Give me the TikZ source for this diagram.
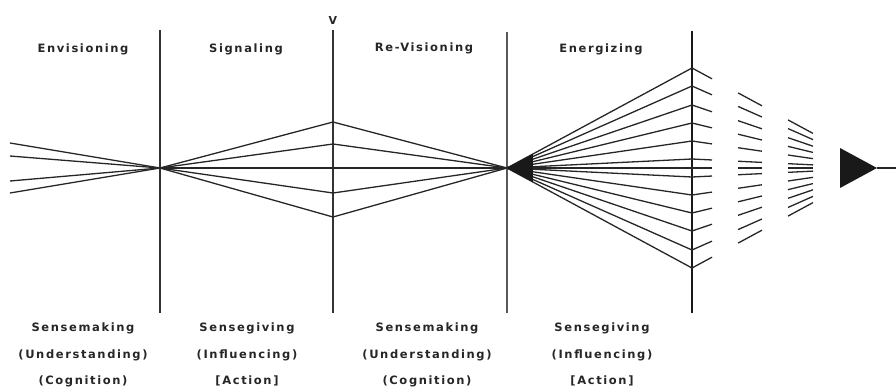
\documentclass[tikz,border=0pt]{standalone}
\usepackage{fontspec}
\setmainfont{DejaVu Sans}[LetterSpace=14]
\usetikzlibrary{calc}
\begin{document}
\begin{tikzpicture}[x=1pt,y=-1pt,
  lbl/.style={font=\fontsize{11.5}{13}\selectfont\bfseries, inner sep=0pt, anchor=center, text=black!85},
  ln/.style={line width=1.3pt, draw=black!85},
  vline/.style={line width=1.8pt, draw=black!80},
  vthick/.style={line width=2.8pt, draw=black!90},
  wedge/.style={fill=black!90}]
\useasboundingbox (0,0) rectangle (896,391);

% apex points
\coordinate (p1) at (160,168);
\coordinate (p2) at (507,168);
\coordinate (p3) at (877,168);
\coordinate (r)  at (896,168);

% vertical dividers
\coordinate (v1t) at (160,30);  \coordinate (v1b) at (160,313);
\coordinate (v2t) at (333,30);  \coordinate (v2b) at (333,313);
\coordinate (v3t) at (507,32);  \coordinate (v3b) at (507,313);
\coordinate (v4t) at (692,31);  \coordinate (v4b) at (692,313);
\draw[vline] (v1t) -- (v1b);
\draw[vline] (v2t) -- (v2b);
\draw[vline, line width=1.5pt, draw=black!65] (v3t) -- (v3b);
\draw[vthick] (v4t) -- (v4b);

% Envisioning: lines converging
\foreach \y [count=\i] in {143,156,181,193} {
  \coordinate (l\i) at (10,\y);
  \draw[ln] (l\i) -- (p1);
}

% Signaling / Re-Visioning: diamond
\foreach \y [count=\i] in {122,144,168,193,217} {
  \coordinate (s\i) at (333,\y);
  \draw[ln] (p1) -- (s\i) -- (p2);
}

% Energizing fan and broken convergence
\foreach \d [count=\i] in {-100,-82,-63,-45,-27,-9,0,9,27,45,63,82,100} {
  \coordinate (e\i) at (692,168+\d);
  \draw[ln] (p2) -- (e\i);
  \draw[ln] (e\i) -- ($(e\i)!0.108!(p3)$);
  \draw[ln] ($(e\i)!0.249!(p3)$) -- ($(e\i)!0.378!(p3)$);
  \draw[ln] ($(e\i)!0.519!(p3)$) -- ($(e\i)!0.654!(p3)$);
}
\fill[wedge] ($(p2)!0.14!(e1)$) -- (p2) -- ($(p2)!0.14!(e13)$) -- cycle;
\fill[wedge] ($(e1)!0.8!(p3)$) -- (p3) -- ($(e13)!0.8!(p3)$) -- cycle;
\draw[ln] (p3) -- (r);

% top marker
\node[lbl, font=\fontsize{11}{12}\selectfont\bfseries] (mark) at (333,20) {V};

% headings
\node[lbl] (h1) at (83,49) {Envisioning};
\node[lbl] (h2) at (246,49) {Signaling};
\node[lbl] (h3) at (424,48) {Re-Visioning};
\node[lbl] (h4) at (601,49) {Energizing};

% bottom captions
\node[lbl] (a1) at (83,328) {Sensemaking};
\node[lbl] (a2) at (83,355) {(Understanding)};
\node[lbl] (a3) at (83,381) {(Cognition)};
\node[lbl] (b1) at (247,328) {Sensegiving};
\node[lbl] (b2) at (247,355) {(Influencing)};
\node[lbl] (b3) at (247,381) {[Action]};
\node[lbl] (c1) at (427,328) {Sensemaking};
\node[lbl] (c2) at (427,355) {(Understanding)};
\node[lbl] (c3) at (427,381) {(Cognition)};
\node[lbl] (d1) at (602,328) {Sensegiving};
\node[lbl] (d2) at (602,355) {(Influencing)};
\node[lbl] (d3) at (602,381) {[Action]};
\end{tikzpicture}
\end{document}
